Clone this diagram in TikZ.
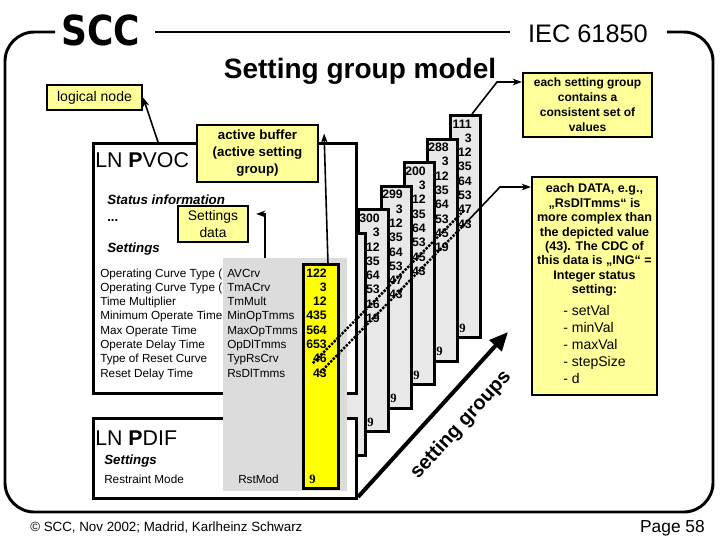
\documentclass[tikz,border=0pt]{standalone}
\usepackage{fontspec}
\setmainfont{Liberation Sans}
\newfontfamily\logofont{DejaVu Sans}
\newfontfamily\ninefont{Liberation Serif}
\usetikzlibrary{arrows.meta,positioning,calc}
\definecolor{notefill}{HTML}{FFFF99}
\definecolor{valfill}{HTML}{FFFF00}
\definecolor{codefill}{HTML}{DCDCDC}
\definecolor{grpfill}{HTML}{E8E8E8}
\newcommand\fs[2]{\fontsize{#1}{#2}\selectfont}
\tikzset{>={Stealth[length=7pt,width=5pt]},
  frame/.style={line width=2.2pt, rounded corners=22pt},
  lnbox/.style={draw, line width=2.2pt, fill=white, anchor=north west, minimum width=197.25pt},
  grpbox/.style={draw, line width=2.2pt, fill=grpfill, anchor=north east, minimum width=22.5pt, minimum height=166.5pt},
  note/.style={draw, line width=1.6pt, fill=notefill, align=center, inner sep=1pt},
  conn/.style={line width=1.2pt, ->},
  txt/.style={inner sep=0pt, anchor=base west},
  row/.style={txt, font=\fs{8.8}{10}},
  val/.style={inner sep=0pt, anchor=base east, font=\fs{9.2}{10}\bfseries},
  nine/.style={inner sep=0pt, anchor=base west, font=\fs{9.5}{10}\ninefont\bfseries},
}
% one setting group behind the LN: name, right edge, top edge, values
\newcommand\grppanel[4]{%
  \node[grpbox] (#1) at (#2,#3) {};
  \foreach \v [count=\i] in {#4}
    \node[val] (#1-\i) at (#2-10, #3+14+14.3*\i-14.3) {\v};
  \node[nine] (#1-9) at (#2-23, #3+218) {9};
}

\begin{document}
\begin{tikzpicture}[x=0.75pt, y=-0.75pt]
  \useasboundingbox (0,0) rectangle (720,540);
  % frame and titles
  \draw[frame] (55,32) -- (5,32) -- (5,512) -- (713,512) -- (713,32) -- (667,32);
  \draw[frame] (155,32) -- (510,32);
  \node[inner sep=0pt, anchor=base] (scc) at (101,45) {\scalebox{0.87}[1]{\fs{31}{31}\logofont\bfseries SCC}};
  \node[inner sep=0pt, anchor=base, font=\fs{19}{19}] (iec) at (588,42) {IEC 61850};
  \node[inner sep=0pt, anchor=base, font=\fs{21}{21}\bfseries] (title) at (360,78) {Setting group model};

  % setting groups, back to front
  \grppanel{gF}{482}{114}{111,3,12,435,564,653,47,43}
  \grppanel{gE}{459}{137.6}{288,3,12,435,564,653,45,19}
  \grppanel{gD}{436}{161.2}{200,3,12,435,564,653,45,43}
  \grppanel{gC}{413}{184.8}{299,3,12,435,564,653,47,43}
  \grppanel{gB}{390}{208.4}{300,3,12,435,564,653,16,19}
  \node[grpbox] (gA) at (367,232) {};

  % logical nodes
  \node[lnbox, minimum height=187.5pt] (pvoc) at (92,142) {};
  \node[lnbox, minimum height=60pt] (pdif) at (92,417) {};

  \foreach \lbl [count=\i] in {Operating Curve Type (, Operating Curve Type (, Time Multiplier,
      Minimum Operate Time, Max Operate Time, Operate Delay Time, Type of Reset Curve, Reset Delay Time}
    \node[row] (lbl-\i) at (100, 262.7+14.3*\i) {\lbl};
  \node[row] (lbl-9) at (104,483) {Restraint Mode};
  \node[fill=codefill, minimum width=93pt, minimum height=174.75pt, anchor=north west, inner sep=0pt] (codes) at (223,258) {};
  \foreach \code [count=\i] in {AVCrv, TmACrv, TmMult, MinOpTmms, MaxOpTmms, OpDlTmms, TypRsCrv, RsDlTmms}
    \node[row] (code-\i) at (227, 262.7+14.3*\i) {\code};
  \node[row] (code-9) at (238,483) {RstMod};
  \node[draw, line width=2.2pt, fill=valfill, minimum width=26.25pt, minimum height=168pt, anchor=north west] (vals) at (302,263) {};
  \foreach \v [count=\i] in {122,3,12,435,564,653,46,43}
    \node[val] (val-\i) at (327, 262.7+14.3*\i) {\v};
  \node[nine] (val-9) at (309,483) {9};

  % texts in the LNs
  \node[txt, font=\fs{16}{16}] (pvocname) at (95,167) {LN \textbf{P}VOC};
  \node[txt, font=\fs{10}{12}\bfseries\itshape] (status) at (107,204) {Status information};
  \node[txt, font=\fs{10}{12}\bfseries] (dots) at (107,221) {...};
  \node[txt, font=\fs{10}{12}\bfseries\itshape] (pvocset) at (107,252) {Settings};
  \node[txt, font=\fs{16}{16}] (pdifname) at (95,445) {LN \textbf{P}DIF};
  \node[txt, font=\fs{10}{12}\bfseries\itshape] (pdifset) at (104,464) {Settings};

  % notes
  \node[note, minimum width=71.25pt, minimum height=18.75pt, font=\fs{10.5}{12}] (lognode) at (94.5,97.5) {logical node};
  \node[note, minimum width=90.75pt, minimum height=42.75pt, font=\fs{10}{12.75}\bfseries] (abuf) at (257.5,153.5) {active buffer\\(active setting\\group)};
  \node[note, minimum width=52.5pt, minimum height=27pt, font=\fs{10.4}{12.5}] (setdata) at (213,224) {Settings\\data};
  \node[note, minimum width=96.75pt, minimum height=48pt, font=\fs{9}{11.25}\bfseries] (grpnote) at (587.5,105)
    {each setting group\\contains a\\consistent set of\\values};
  \node[note, minimum width=93.75pt, minimum height=163.5pt, font=\fs{9.4}{10.8}\bfseries] (datanote) at (594.5,286)
    {each DATA, e.g.,\\„RsDlTmms“ is\\more complex than\\the depicted value\\(43). The CDC of\\this data is „ING“ =\\Integer status\\setting:\\[4pt]
     {\fs{10.5}{12.75}\mdseries\begin{tabular}{@{}l@{}}- setVal\\- minVal\\- maxVal\\- stepSize\\- d\end{tabular}}};

  % connectors
  \draw[conn] ($(pvoc.north west)+(66,0)$) -- (lognode.east);
  \draw[conn] ($(vals.north)+(7,0)$) -- ($(abuf.east)+(5,-20)$);
  \draw[conn] ($(codes.north west)+(42,0)$) |- ($(setdata.north east)+(7,9)$);
  \coordinate (grpbend) at (497,82);
  \draw[conn] ($(gF.north east)+(-10,0)$) -- (grpbend) -- (grpbend -| grpnote.west);
  \draw[line width=1.8pt, densely dotted] (val-7.south west) -- (gF-7.center);
  \draw[line width=1.8pt, densely dotted] (val-8.center) -- (gF-8.center);
  \coordinate (databend) at (500,187);
  \draw[conn] (gF-8.center) -- (databend) -- (databend -| datanote.west);
  \coordinate (sgfrom) at (358,497);
  \coordinate (sgto) at (508,332);
  \draw[line width=3pt, -{Triangle[length=14pt,width=12pt]}] (sgfrom) -- (sgto)
    node[pos=0.55, below=9pt, sloped, font=\fs{15}{15}\bfseries] (sglabel) {setting groups};

  % footer
  \node[txt, font=\fs{10}{12}] (copy) at (30,531) {© SCC, Nov 2002; Madrid, Karlheinz Schwarz};
  \node[inner sep=0pt, anchor=base east, font=\fs{13}{13}] (page) at (705,532) {Page 58};
\end{tikzpicture}
\end{document}
